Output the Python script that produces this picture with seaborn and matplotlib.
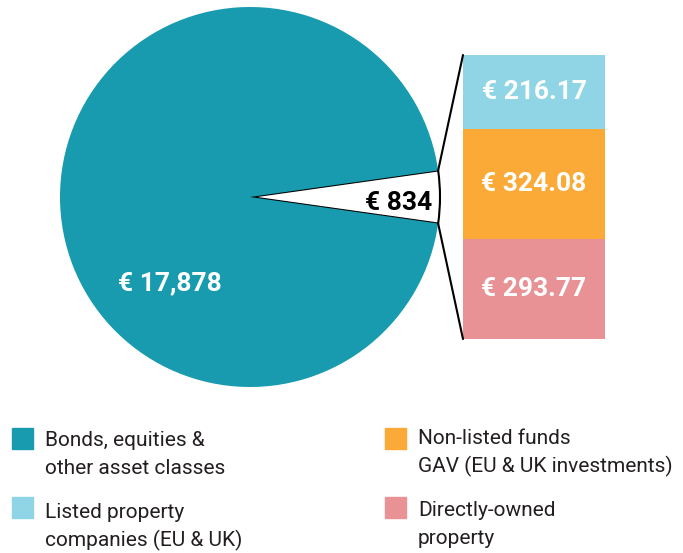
import matplotlib
matplotlib.use("Agg")
import matplotlib.pyplot as plt
from matplotlib.patches import Rectangle, ConnectionPatch
import seaborn as sns
import numpy as np

# ---- data ----
pie_labels = ["Other property", "Bonds, equities & other asset classes"]
pie_values = [834, 17878]
pie_texts = ["€ 834", "€ 17,878"]

bar_labels = ["Directly-owned\nproperty", "Non-listed funds\nGAV (EU & UK investments)", "Listed property\ncompanies (EU & UK)"]
bar_values = [293.77, 324.08, 216.17]
bar_texts = ["€ 293.77", "€ 324.08", "€ 216.17"]

legend_labels = [["Bonds, equities &", "other asset classes"],
                 ["Listed property", "companies (EU & UK)"],
                 ["Non-listed funds", "GAV (EU & UK investments)"],
                 ["Directly-owned", "property"]]

teal = "#189BAF"
lblue = "#8FD5E6"
orange = "#FBAA37"
pink = "#E89296"
legend_colors = [teal, lblue, orange, pink]
bar_colors = [pink, orange, lblue]

sns.set_theme(style="white")
plt.rcParams['font.family'] = ['Roboto', 'DejaVu Sans']

W, H = 683, 553
fig = plt.figure(figsize=(W / 100, H / 100), dpi=100)

def fr(x0, y0, x1, y1):
    return [x0 / W, 1 - y1 / H, (x1 - x0) / W, (y1 - y0) / H]

# ---- pie ----
axp = fig.add_axes(fr(60, 7, 440, 387))
theta = 360 * pie_values[0] / sum(pie_values)
wedges, _ = axp.pie(pie_values, colors=["white", teal], startangle=-theta / 2,
                    counterclock=True, radius=1)
wedges[0].set_edgecolor("black")
wedges[0].set_linewidth(1.5)
wedges[1].set_edgecolor("none")
axp.set_xlim(-1, 1)
axp.set_ylim(-1, 1)
axp.set_aspect("equal")
axp.axis("off")
axp.text(0.78, -0.03, pie_texts[0], ha="center", va="center", fontsize=19,
         fontweight="bold", color="black")
axp.text(-0.42, -0.455, pie_texts[1], ha="center", va="center", fontsize=19,
         fontweight="bold", color="white")

# ---- stacked bar ----
axb = fig.add_axes(fr(463, 55, 605, 339))
bottom = 0
for v, c, t in zip(bar_values, bar_colors, bar_texts):
    axb.bar(0, v, bottom=bottom, width=1, color=c, edgecolor="none")
    axb.text(0, bottom + v / 2, t, ha="center", va="center", fontsize=19,
             fontweight="bold", color="white")
    bottom += v
axb.set_xlim(-0.5, 0.5)
axb.set_ylim(0, sum(bar_values))
axb.axis("off")

# connection lines
a = np.deg2rad(theta / 2)
for sgn, yb in [(1, sum(bar_values)), (-1, 0)]:
    con = ConnectionPatch(xyA=(np.cos(a), sgn * np.sin(a)), coordsA=axp.transData,
                          xyB=(-0.5, yb), coordsB=axb.transData,
                          color="black", linewidth=1.5)
    fig.add_artist(con)

# ---- legend ----
axl = fig.add_axes([0, 0, 1, 1])
axl.set_xlim(0, W)
axl.set_ylim(H, 0)
axl.axis("off")
pos = [(12, 428, 45, 440), (12, 497, 45, 512), (385, 428, 418, 438), (385, 497, 418, 510)]
for (sx, sy, tx, ty), lab, col in zip(pos, legend_labels, legend_colors):
    axl.add_patch(Rectangle((sx, sy), 21, 21, color=col))
    for i, line in enumerate(lab):
        axl.text(tx, ty + 28 * i, line, ha="left", va="center", fontsize=15,
                 color="#231F20")

fig.savefig("out.png", dpi=100)
